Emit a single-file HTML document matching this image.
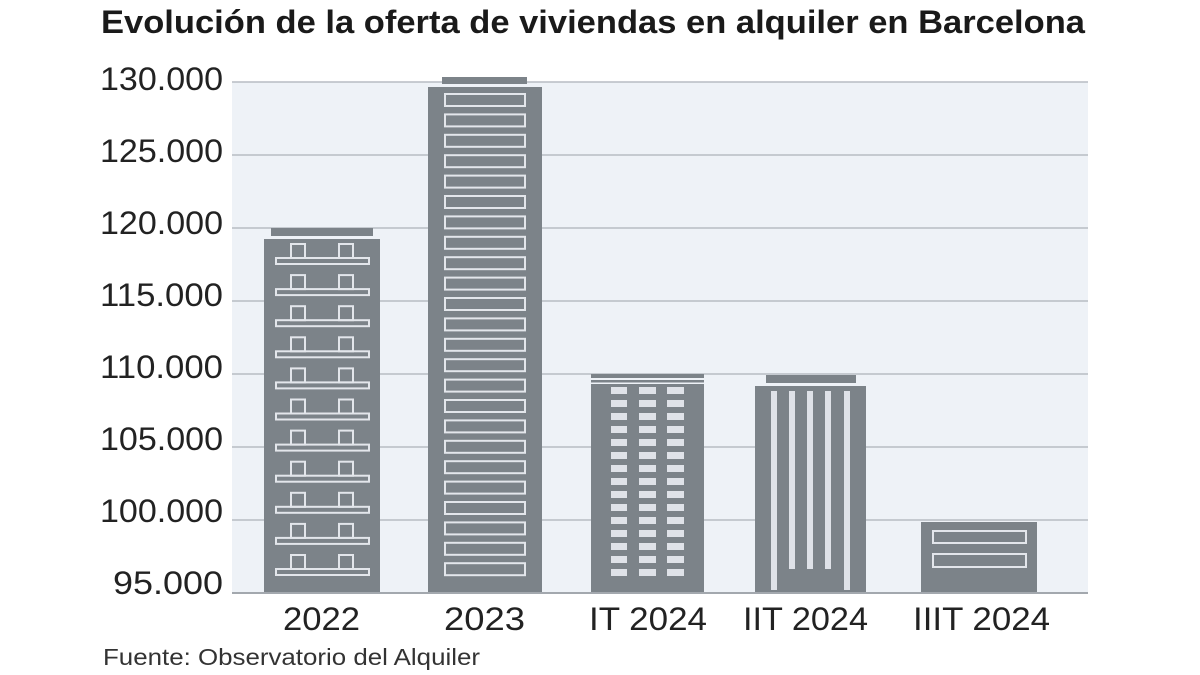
<!DOCTYPE html>
<html>
<head>
<meta charset="utf-8">
<style>
  html, body { margin: 0; padding: 0; background: #ffffff; }
  svg { display: block; }
  text { font-family: "Liberation Sans", "DejaVu Sans", sans-serif; }
</style>
</head>
<body>
<svg width="1200" height="675" viewBox="0 0 1200 675" xmlns="http://www.w3.org/2000/svg">
  <rect x="0" y="0" width="1200" height="675" fill="#ffffff"/>

  <!-- Title -->
  <text x="101" y="33" font-size="32" font-weight="bold" fill="#1a1a1a" textLength="984" lengthAdjust="spacingAndGlyphs">Evolución de la oferta de viviendas en alquiler en Barcelona</text>

  <!-- Plot background -->
  <rect x="232" y="82" width="856" height="511" fill="#eef2f7"/>

  <!-- Gridlines -->
  <g stroke="#b7bcc4" stroke-width="1.5">
    <line x1="232" y1="82" x2="1088" y2="82"/>
    <line x1="232" y1="155" x2="1088" y2="155"/>
    <line x1="232" y1="228" x2="1088" y2="228"/>
    <line x1="232" y1="301" x2="1088" y2="301"/>
    <line x1="232" y1="374" x2="1088" y2="374"/>
    <line x1="232" y1="447" x2="1088" y2="447"/>
    <line x1="232" y1="520" x2="1088" y2="520"/>
  </g>

  <!-- Y labels -->
  <g font-size="32" fill="#222" text-anchor="end">
    <text x="223" y="90" textLength="123" lengthAdjust="spacingAndGlyphs">130.000</text>
    <text x="223" y="162" textLength="123" lengthAdjust="spacingAndGlyphs">125.000</text>
    <text x="223" y="234" textLength="123" lengthAdjust="spacingAndGlyphs">120.000</text>
    <text x="223" y="306" textLength="123" lengthAdjust="spacingAndGlyphs">115.000</text>
    <text x="223" y="378" textLength="123" lengthAdjust="spacingAndGlyphs">110.000</text>
    <text x="223" y="450" textLength="123" lengthAdjust="spacingAndGlyphs">105.000</text>
    <text x="223" y="522" textLength="123" lengthAdjust="spacingAndGlyphs">100.000</text>
    <text x="223" y="594" textLength="110" lengthAdjust="spacingAndGlyphs">95.000</text>
  </g>

  <!-- Bar 2022 -->
  <g>
    <rect x="271" y="228" width="102" height="8" fill="#7c8389"/>
    <rect x="264" y="239" width="116" height="354" fill="#7c8389"/>
    <g fill="none" stroke="#e3e6eb" stroke-width="2">
      <rect x="291" y="244" width="14" height="14"/><rect x="339" y="244" width="14" height="14"/><rect x="276" y="258" width="93" height="6"/>
      <rect x="291" y="275.1" width="14" height="14"/><rect x="339" y="275.1" width="14" height="14"/><rect x="276" y="289.1" width="93" height="6"/>
      <rect x="291" y="306.2" width="14" height="14"/><rect x="339" y="306.2" width="14" height="14"/><rect x="276" y="320.2" width="93" height="6"/>
      <rect x="291" y="337.3" width="14" height="14"/><rect x="339" y="337.3" width="14" height="14"/><rect x="276" y="351.3" width="93" height="6"/>
      <rect x="291" y="368.4" width="14" height="14"/><rect x="339" y="368.4" width="14" height="14"/><rect x="276" y="382.4" width="93" height="6"/>
      <rect x="291" y="399.5" width="14" height="14"/><rect x="339" y="399.5" width="14" height="14"/><rect x="276" y="413.5" width="93" height="6"/>
      <rect x="291" y="430.6" width="14" height="14"/><rect x="339" y="430.6" width="14" height="14"/><rect x="276" y="444.6" width="93" height="6"/>
      <rect x="291" y="461.7" width="14" height="14"/><rect x="339" y="461.7" width="14" height="14"/><rect x="276" y="475.7" width="93" height="6"/>
      <rect x="291" y="492.8" width="14" height="14"/><rect x="339" y="492.8" width="14" height="14"/><rect x="276" y="506.8" width="93" height="6"/>
      <rect x="291" y="523.9" width="14" height="14"/><rect x="339" y="523.9" width="14" height="14"/><rect x="276" y="537.9" width="93" height="6"/>
      <rect x="291" y="555" width="14" height="14"/><rect x="339" y="555" width="14" height="14"/><rect x="276" y="569" width="93" height="6"/>
    </g>
  </g>

  <!-- Bar 2023 -->
  <g>
    <rect x="442" y="77" width="85" height="7" fill="#7c8389"/>
    <rect x="428" y="87" width="114" height="506" fill="#7c8389"/>
    <g fill="none" stroke="#e3e6eb" stroke-width="2">
      <rect x="445" y="94" width="80" height="12"/>
      <rect x="445" y="114.4" width="80" height="12"/>
      <rect x="445" y="134.8" width="80" height="12"/>
      <rect x="445" y="155.2" width="80" height="12"/>
      <rect x="445" y="175.6" width="80" height="12"/>
      <rect x="445" y="196" width="80" height="12"/>
      <rect x="445" y="216.4" width="80" height="12"/>
      <rect x="445" y="236.8" width="80" height="12"/>
      <rect x="445" y="257.2" width="80" height="12"/>
      <rect x="445" y="277.6" width="80" height="12"/>
      <rect x="445" y="298" width="80" height="12"/>
      <rect x="445" y="318.4" width="80" height="12"/>
      <rect x="445" y="338.8" width="80" height="12"/>
      <rect x="445" y="359.2" width="80" height="12"/>
      <rect x="445" y="379.6" width="80" height="12"/>
      <rect x="445" y="400" width="80" height="12"/>
      <rect x="445" y="420.4" width="80" height="12"/>
      <rect x="445" y="440.8" width="80" height="12"/>
      <rect x="445" y="461.2" width="80" height="12"/>
      <rect x="445" y="481.6" width="80" height="12"/>
      <rect x="445" y="502" width="80" height="12"/>
      <rect x="445" y="522.4" width="80" height="12"/>
      <rect x="445" y="542.8" width="80" height="12"/>
      <rect x="445" y="563.2" width="80" height="12"/>
    </g>
  </g>

  <!-- Bar IT 2024 -->
  <g>
    <rect x="591" y="374" width="113" height="4" fill="#7c8389"/>
    <rect x="591" y="380" width="113" height="2.5" fill="#7c8389"/>
    <rect x="591" y="384" width="113" height="209" fill="#7c8389"/>
    <g fill="#dfe2e8">
      <rect x="611" y="387" width="16" height="7"/><rect x="639" y="387" width="17" height="7"/><rect x="667" y="387" width="17" height="7"/>
      <rect x="611" y="400" width="16" height="7"/><rect x="639" y="400" width="17" height="7"/><rect x="667" y="400" width="17" height="7"/>
      <rect x="611" y="413" width="16" height="7"/><rect x="639" y="413" width="17" height="7"/><rect x="667" y="413" width="17" height="7"/>
      <rect x="611" y="426" width="16" height="7"/><rect x="639" y="426" width="17" height="7"/><rect x="667" y="426" width="17" height="7"/>
      <rect x="611" y="439" width="16" height="7"/><rect x="639" y="439" width="17" height="7"/><rect x="667" y="439" width="17" height="7"/>
      <rect x="611" y="452" width="16" height="7"/><rect x="639" y="452" width="17" height="7"/><rect x="667" y="452" width="17" height="7"/>
      <rect x="611" y="465" width="16" height="7"/><rect x="639" y="465" width="17" height="7"/><rect x="667" y="465" width="17" height="7"/>
      <rect x="611" y="478" width="16" height="7"/><rect x="639" y="478" width="17" height="7"/><rect x="667" y="478" width="17" height="7"/>
      <rect x="611" y="491" width="16" height="7"/><rect x="639" y="491" width="17" height="7"/><rect x="667" y="491" width="17" height="7"/>
      <rect x="611" y="504" width="16" height="7"/><rect x="639" y="504" width="17" height="7"/><rect x="667" y="504" width="17" height="7"/>
      <rect x="611" y="517" width="16" height="7"/><rect x="639" y="517" width="17" height="7"/><rect x="667" y="517" width="17" height="7"/>
      <rect x="611" y="530" width="16" height="7"/><rect x="639" y="530" width="17" height="7"/><rect x="667" y="530" width="17" height="7"/>
      <rect x="611" y="543" width="16" height="7"/><rect x="639" y="543" width="17" height="7"/><rect x="667" y="543" width="17" height="7"/>
      <rect x="611" y="556" width="16" height="7"/><rect x="639" y="556" width="17" height="7"/><rect x="667" y="556" width="17" height="7"/>
      <rect x="611" y="569" width="16" height="7"/><rect x="639" y="569" width="17" height="7"/><rect x="667" y="569" width="17" height="7"/>
    </g>
  </g>

  <!-- Bar IIT 2024 -->
  <g>
    <rect x="766" y="375" width="90" height="8" fill="#7c8389"/>
    <rect x="755" y="386" width="111" height="207" fill="#7c8389"/>
    <g fill="#dfe2e8">
      <rect x="771" y="391" width="6" height="199"/>
      <rect x="789" y="391" width="6" height="178"/>
      <rect x="807" y="391" width="6" height="178"/>
      <rect x="825" y="391" width="6" height="178"/>
      <rect x="844" y="391" width="6" height="199"/>
    </g>
  </g>

  <!-- Bar IIIT 2024 -->
  <g>
    <rect x="921" y="522" width="116" height="71" fill="#7c8389"/>
    <g fill="none" stroke="#e3e6eb" stroke-width="2">
      <rect x="933" y="531" width="93" height="12"/>
      <rect x="933" y="554" width="93" height="13"/>
    </g>
  </g>

  <!-- Baseline -->
  <line x1="232" y1="593" x2="1088" y2="593" stroke="#a3a8ae" stroke-width="2"/>

  <!-- X labels -->
  <g font-size="32" fill="#222">
    <text x="283" y="630" textLength="77" lengthAdjust="spacingAndGlyphs">2022</text>
    <text x="444" y="630" textLength="81" lengthAdjust="spacingAndGlyphs">2023</text>
    <text x="589" y="630" textLength="118" lengthAdjust="spacingAndGlyphs">IT 2024</text>
    <text x="743" y="630" textLength="125" lengthAdjust="spacingAndGlyphs">IIT 2024</text>
    <text x="913" y="630" textLength="137" lengthAdjust="spacingAndGlyphs">IIIT 2024</text>
  </g>

  <!-- Source -->
  <text x="103" y="665" font-size="23" fill="#333" textLength="377" lengthAdjust="spacingAndGlyphs">Fuente: Observatorio del Alquiler</text>
</svg>
</body>
</html>
